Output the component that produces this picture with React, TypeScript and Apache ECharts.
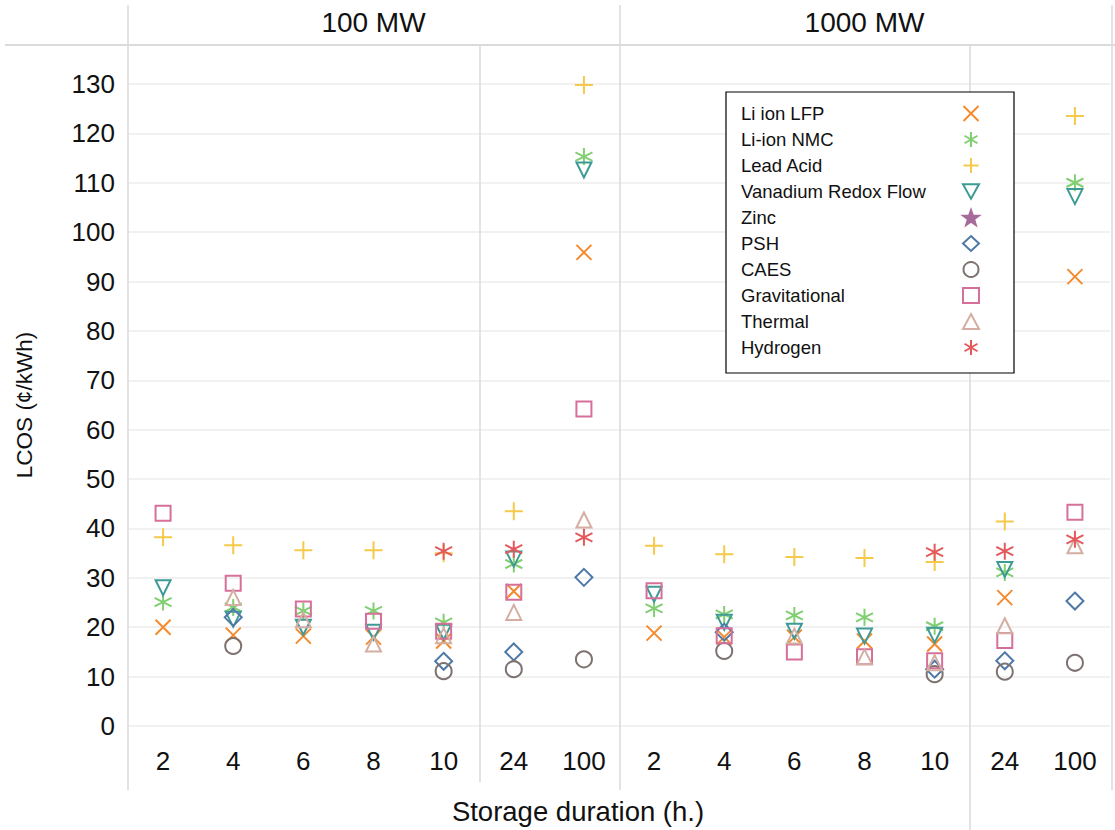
import React, { useEffect, useRef } from "react";
import * as echarts from "echarts";

// ---------- data ----------
const durations = ["2", "4", "6", "8", "10", "24", "100"];
const groups = ["100 MW", "1000 MW"];
const categories = [...durations, ...durations];

// values per category: 100 MW (2,4,6,8,10,24,100) then 1000 MW (2,4,6,8,10,24,100)
const liIonLFP = [20, 18.4, 18.2, 18, 17.2, 27.3, 95.9, 18.8, 18, 18, 17.2, 16.6, 26, 91];
const liIonNMC = [25.1, 24, 23.3, 23.3, 21, 32.8, 115.3, 23.8, 22.6, 22.4, 22, 20.2, 31.1, 110];
const leadAcid = [38.2, 36.6, 35.6, 35.6, 35, 43.5, 129.8, 36.5, 34.8, 34.2, 34, 33.2, 41.4, 123.5];
const vanadium = [28, 21.6, 20, 19, 19, 33.8, 112.6, 26.7, 21, 19.2, 18.2, 18.4, 31.7, 107.2];
const zinc: (number | null)[] = [null, null, null, null, null, null, null, null, null, null, null, null, null, null];
const psh = [null, 22, null, null, 13.1, 15, 30.1, null, 19, null, null, 11.5, 13.2, 25.3];
const caes = [null, 16.2, null, null, 11.1, 11.5, 13.5, null, 15.2, null, null, 10.5, 11, 12.8];
const gravitational = [43.1, 28.9, 23.7, 21.2, 19.2, 27.1, 64.2, 27.4, 18.3, 15, 14, 13.2, 17.3, 43.3];
const thermal = [null, 26, 21.5, 16.6, 18.3, 23, 41.7, null, null, 18.2, 14, 12.8, 20.3, 36.5];
const hydrogen = [null, null, null, null, 35.4, 35.8, 38.2, null, null, null, null, 35.2, 35.4, 37.8];

const seriesNames = [
  "Li ion LFP",
  "Li-ion NMC",
  "Lead Acid",
  "Vanadium Redox Flow",
  "Zinc",
  "PSH",
  "CAES",
  "Gravitational",
  "Thermal",
  "Hydrogen",
];
const seriesValues = [liIonLFP, liIonNMC, leadAcid, vanadium, zinc, psh, caes, gravitational, thermal, hydrogen];

// ---------- styles ----------
const CROSS = "path://M0,0L10,10M10,0L0,10";
const PLUS = "path://M5,0L5,10M0,5L10,5";
const ASTER = "path://M5,0L5,10M0.67,2.5L9.33,7.5M9.33,2.5L0.67,7.5";
const TRI_DOWN = "path://M0,0L10,0L5,9Z";
const STAR =
  "path://M5,0L6.18,3.38L9.76,3.45L6.9,5.62L7.94,9.05L5,7L2.06,9.05L3.1,5.62L0.24,3.45L3.82,3.38Z";

const styles = [
  { symbol: CROSS, color: "#f58a2c", size: 15, fill: false },
  { symbol: ASTER, color: "#82cf72", size: 17, fill: false },
  { symbol: PLUS, color: "#f5c94a", size: 18, fill: false },
  { symbol: TRI_DOWN, color: "#3e9a95", size: 15, fill: false },
  { symbol: STAR, color: "#a66b9a", size: 14, fill: true },
  { symbol: "diamond", color: "#4e79a7", size: 17, fill: false },
  { symbol: "circle", color: "#7d7270", size: 16, fill: false },
  { symbol: "rect", color: "#d6709a", size: 15, fill: false },
  { symbol: "triangle", color: "#d4aea2", size: 15, fill: false },
  { symbol: ASTER, color: "#e45a5c", size: 17, fill: false },
];

const FONT = "Liberation Sans";
const LINE = "#dadada";

export default function App() {
  const ref = useRef<HTMLDivElement>(null);

  useEffect(() => {
    if (!ref.current) return;
    const chart = echarts.init(ref.current, undefined, { renderer: "svg" });

    const series = seriesNames.map((name, k) => {
      const st = styles[k];
      const data = seriesValues[k]
        .map((v, i) => (v == null ? null : [i, v]))
        .filter((d) => d !== null);
      return {
        name,
        type: "scatter",
        xAxisIndex: 0,
        yAxisIndex: 0,
        symbol: st.symbol,
        symbolSize: st.size,
        data,
        itemStyle: {
          color: st.fill ? st.color : "rgba(255,255,255,0)",
          borderColor: st.color,
          borderWidth: 2,
          opacity: 1,
        },
        emphasis: { disabled: true },
        z: 3,
      };
    });

    const vline = (x: number, y1: number, y2: number) => ({
      type: "line",
      shape: { x1: x, y1, x2: x, y2 },
      style: { stroke: LINE, lineWidth: 1.5 },
      silent: true,
      z: 1,
    });

    chart.setOption({
      animation: false,
      backgroundColor: "#ffffff",
      textStyle: { fontFamily: FONT },
      grid: { left: 128, right: 5, top: 84, bottom: 103, containLabel: false },
      xAxis: [
        {
          type: "category",
          data: categories,
          boundaryGap: true,
          axisLine: { show: false },
          axisTick: { show: false },
          splitLine: { show: false },
          axisLabel: { fontSize: 26, color: "#111", margin: 22, fontFamily: FONT, interval: 0 },
          name: "Storage duration (h.)",
          nameLocation: "middle",
          nameGap: 71,
          nameTextStyle: {
            fontSize: 27.5,
            color: "#111",
            fontFamily: FONT,
            padding: [0, 82, 0, 0],
          },
        },
        {
          type: "category",
          data: groups,
          position: "top",
          boundaryGap: true,
          axisLine: { show: false },
          axisTick: { show: false },
          splitLine: { show: false },
          axisLabel: { fontSize: 28, color: "#111", margin: 48, fontFamily: FONT, interval: 0 },
        },
      ],
      yAxis: {
        type: "value",
        min: 0,
        max: 130,
        interval: 10,
        axisLine: { show: false },
        axisTick: { show: false },
        splitLine: { show: true, lineStyle: { color: "#ececec", width: 1.5 } },
        axisLabel: { fontSize: 26, color: "#111", margin: 13, fontFamily: FONT },
        name: "LCOS (¢/kWh)",
        nameLocation: "middle",
        nameGap: 92,
        nameTextStyle: { fontSize: 22.5, color: "#111", fontFamily: FONT },
      },
      legend: {
        show: true,
        orient: "vertical",
        left: 726,
        top: 92,
        align: "right",
        itemWidth: 16,
        itemHeight: 15,
        itemGap: 7,
        padding: [12, 34, 16, 15],
        backgroundColor: "#ffffff",
        borderColor: "#000000",
        borderWidth: 1.2,
        formatter: (name: string) => `{t|${name}}`,
        textStyle: {
          color: "#111",
          fontFamily: FONT,
          rich: {
            t: { width: 217, align: "left", fontSize: 18.5, lineHeight: 16, color: "#111", fontFamily: FONT },
          },
        },
        data: seriesNames,
        selectedMode: false,
        z: 10,
      },
      graphic: [
        {
          type: "line",
          shape: { x1: 5, y1: 45, x2: 1115, y2: 45 },
          style: { stroke: LINE, lineWidth: 2 },
          silent: true,
          z: 1,
        },
        vline(128, 5, 790),
        vline(620, 5, 790),
        vline(480, 45, 782),
        vline(970, 45, 830),
        vline(1112, 5, 790),
      ],
      series,
    });

    return () => chart.dispose();
  }, []);

  return (
    <div
      ref={ref}
      style={{ position: "fixed", left: 0, top: 0, width: 1115, height: 830, background: "#fff" }}
    />
  );
}
